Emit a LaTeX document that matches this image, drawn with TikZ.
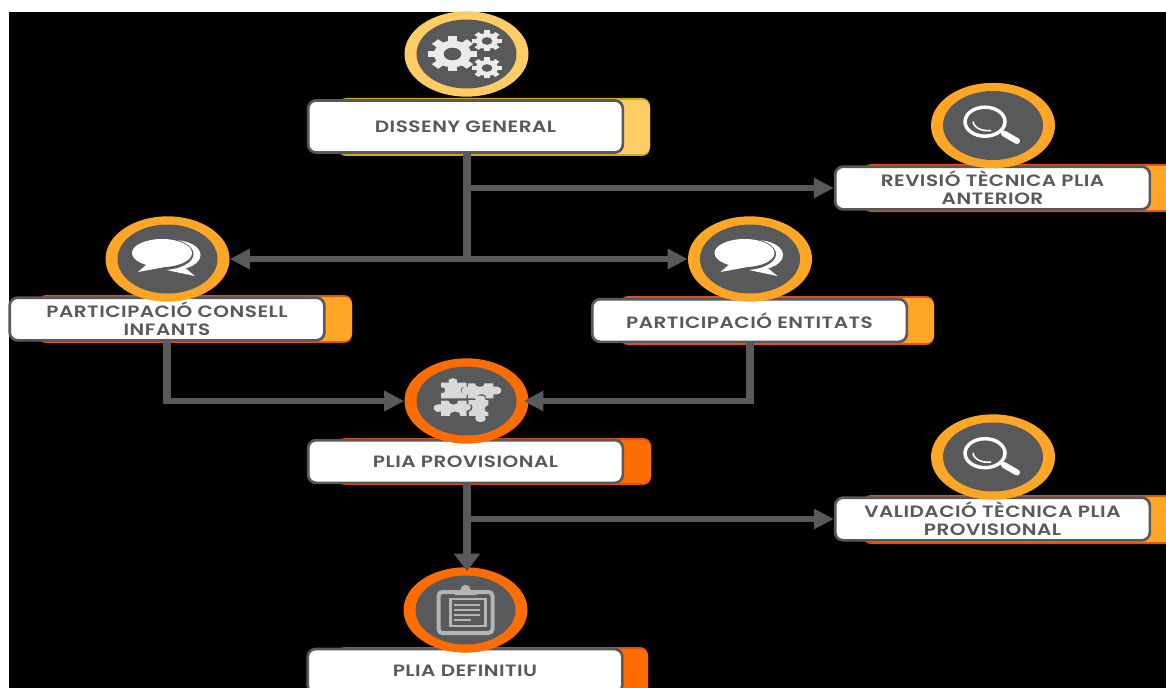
\documentclass[tikz,border=0pt]{standalone}
\usepackage{fontspec}
\setmainfont{Poppins}[FakeStretch=1.22,LetterSpace=3,BoldFont={Poppins SemiBold}]
\usetikzlibrary{arrows.meta,shapes.geometric}
\definecolor{dk}{HTML}{58595B}
\definecolor{yel}{HTML}{FFCC66}
\definecolor{yeledge}{HTML}{C9A81E}
\definecolor{amb}{HTML}{FFA626}
\definecolor{org}{HTML}{FF6D00}
\definecolor{edgeo}{HTML}{E0501A}
\definecolor{pz}{HTML}{D9D9D9}
\definecolor{cl}{HTML}{B5B5B5}
\tikzset{
  x=0.75pt,y=-0.75pt,
  label/.style={draw=dk,line width=2pt,fill=white,rounded corners=6pt,minimum width=236pt,align=center,text=dk,
     font=\fontsize{12.3}{13.5}\selectfont\bfseries,inner sep=0pt},
  ring/.style={ellipse,fill=#1,minimum width=93pt,minimum height=64pt,inner sep=0pt,
     path picture={\fill[dk] (path picture bounding box.center) ellipse (50 and 34.5);}},
  flow/.style={draw=dk,line width=4.8pt},
  vflow/.style={draw=dk,line width=6pt,shorten >=-2.4pt},
  arrowed/.style={flow,-{Triangle[length=15pt,width=14.5pt]}},
  varrowed/.style={draw=dk,line width=5.8pt,-{Triangle[length=13pt,width=19pt]}}
}
\newcommand{\backtab}[6]{%
  \fill[#6,rounded corners=6pt] (#1,#2) rectangle (#3,#4);
  \fill[#5,rounded corners=6pt] (#1+2,#2+1.8) rectangle (#3,#4-1.8);}
\newcommand{\gearicon}[4]{% x y r colour
  \begin{scope}[shift={(#1,#2)},xscale=1.4]
    \fill[#4] (0,0) circle (0.76*#3);
    \foreach \a in {0,45,...,315}{\fill[#4,rotate=\a] (-0.18*#3,-#3) rectangle (0.18*#3,#3);}
    \fill[dk] (0,0) circle (0.36*#3);
  \end{scope}}
\newcommand{\bubbleicon}[2]{%
  \begin{scope}[shift={(#1,#2)}]
    \fill[white] (6,-4) ellipse (27 and 15);
    \fill[white] (14,6) -- (27.5,17) -- (-6,10) -- cycle;
    \fill[dk] (-5.5,-5) ellipse (31.5 and 16);
    \fill[dk] (-18,3) -- (-33,15) -- (6,9.5) -- cycle;
    \fill[white] (-5.5,-6) ellipse (30 and 14);
    \fill[white] (-18,3) -- (-29.5,13) -- (3,7) -- cycle;
  \end{scope}}
\newcommand{\lensicon}[2]{%
  \begin{scope}[shift={(#1,#2)}]
    \draw[white,line width=2.6pt] (-8,-3.8) ellipse (20 and 14.5);
    \draw[white,line width=1.8pt] (6,5) -- (13,9);
    \draw[white,line width=4.5pt,line cap=round] (11,8) -- (24,15.5);
    \draw[white,line width=1.2pt] (-20,-4) .. controls (-19,3) and (-10,6) .. (-2,5);
  \end{scope}}
\newcommand{\puzzleicon}[2]{%
  \begin{scope}[shift={(#1-41.5,#2-31)},scale=0.3333]
    \fill[pz] (48,38) -- (72,38) .. controls (62,20) and (105,20) .. (95,38) -- (125,38) -- (125,50)
       .. controls (100,48) and (100,74) .. (125,72) -- (125,85) -- (48,85) -- (48,70)
       .. controls (65,72) and (65,48) .. (48,52) -- cycle;
    \fill[pz] (129,40) -- (150,40) .. controls (145,54) and (185,54) .. (178,40) -- (205,40) -- (205,50)
       .. controls (237,45) and (237,78) .. (205,73) -- (205,85) -- (185,85)
       .. controls (188,68) and (150,68) .. (155,85) -- (129,85) -- (129,74)
       .. controls (103,78) and (103,46) .. (129,50) -- cycle;
    \fill[pz] (48,92) -- (70,92) .. controls (72,108) and (100,108) .. (100,92) -- (125,92) -- (125,102)
       .. controls (142,100) and (142,122) .. (125,122) -- (125,138) -- (105,138)
       .. controls (110,120) and (70,120) .. (75,138) -- (48,138) -- (48,125)
       .. controls (18,130) and (18,100) .. (48,103) -- cycle;
    \fill[pz] (130,90) -- (152,90) .. controls (140,72) and (192,72) .. (180,90) -- (190,90) -- (190,105)
       .. controls (175,108) and (175,125) .. (190,128) -- (190,138) -- (180,138)
       .. controls (192,162) and (142,162) .. (152,138) -- (132,138) -- (132,125)
       .. controls (147,122) and (147,100) .. (130,102) -- cycle;
  \end{scope}}
\newcommand{\clipicon}[2]{%
  \begin{scope}[shift={(#1,#2)}]
    \draw[cl,line width=3pt,rounded corners=3pt] (-27,-18) rectangle (27,23);
    \draw[cl,line width=2pt] (-15,-11) rectangle (20,16);
    \fill[cl] (-11,-20) -- (-5,-20) .. controls (-4,-27) and (4,-27) .. (5,-20) -- (11,-20) -- (11,-15) -- (-11,-15) -- cycle;
    \foreach \yy in {-5,0,5}{\draw[cl,line width=1.6pt] (-12,\yy) -- (14,\yy);}
    \draw[cl,line width=1.6pt] (-12,10) -- (5,10);
  \end{scope}}
\begin{document}
\begin{tikzpicture}
\useasboundingbox (0,0) rectangle (1166,688);
\clip (0,0) rectangle (1166,688);
\fill[white] (0,0) rectangle (1166,688);
\fill[black] (9,12) rectangle (1166,688);
% back tabs
\backtab{338}{98}{650}{156}{yel}{yeledge}
\backtab{863}{164}{1190}{212}{amb}{edgeo}
\backtab{38}{295}{352}{343}{amb}{edgeo}
\backtab{620}{296}{934}{345}{amb}{edgeo}
\backtab{337}{438}{651}{485}{org}{edgeo}
\backtab{863}{495}{1190}{544}{amb}{edgeo}
\backtab{337}{647}{648}{720}{org}{edgeo}
% text boxes
\node[label,minimum height=39pt] (dg) at (465.5,126.5) {DISSENY GENERAL};
\node[label,minimum height=32pt] (rev) at (992.5,188) {REVISIÓ TÈCNICA PLIA\\ANTERIOR};
\node[label,minimum height=32pt] (pc) at (167,319) {PARTICIPACIÓ CONSELL\\INFANTS};
\node[label,minimum height=32pt] (pe) at (749.5,320.5) {PARTICIPACIÓ ENTITATS};
\node[label,minimum height=32pt] (prov) at (465.5,461.5) {PLIA PROVISIONAL};
\node[label,minimum height=32pt] (val) at (992.5,519) {VALIDACIÓ TÈCNICA PLIA\\PROVISIONAL};
\node[label,minimum height=33pt] (def) at (465,671) {PLIA DEFINITIU};
% circles
\node[ring=yel] (dgi) at (466.5,54) {};
\node[ring=amb] (revi) at (993,125.5) {};
\node[ring=amb] (pci) at (167.5,259) {};
\node[ring=amb] (pei) at (750,259) {};
\node[ring=org] (provi) at (466.5,401) {};
\node[ring=amb] (vali) at (993,457) {};
\node[ring=org] (defi) at (465.5,610) {};
% icons
\gearicon{452.5}{54}{17.5}{white!92!black}
\gearicon{487}{41}{10.5}{white!92!black}
\gearicon{487}{68}{10.5}{white!92!black}
\lensicon{993}{125.5}
\lensicon{993}{457}
\bubbleicon{167.5}{259}
\bubbleicon{750}{259}
\puzzleicon{466.5}{401}
\clipicon{465.5}{610}
% connectors
\coordinate (j1) at (467,259);
\coordinate (j2) at (467,188);
\coordinate (j3) at (467,519);
\draw[vflow] (j1 |- dg.south) -- (j1);
\draw[arrowed] (j1) -- (pci.east);
\draw[arrowed] (j1) -- (pei.west);
\draw[arrowed] (j2) -- (rev.west);
\draw[vflow] (pc.south) -- (pc.south |- provi.west);
\draw[arrowed] (pc.south |- provi.west) -- (provi.west);
\draw[vflow] (pe.south) -- (pe.south |- provi.east);
\draw[arrowed,shorten >=-4pt] (pe.south |- provi.east) -- (provi.east);
\draw[varrowed,shorten >=-3pt] (j3 |- prov.south) -- (j3 |- defi.north);
\draw[arrowed] (j3) -- (val.west);
\end{tikzpicture}
\end{document}
